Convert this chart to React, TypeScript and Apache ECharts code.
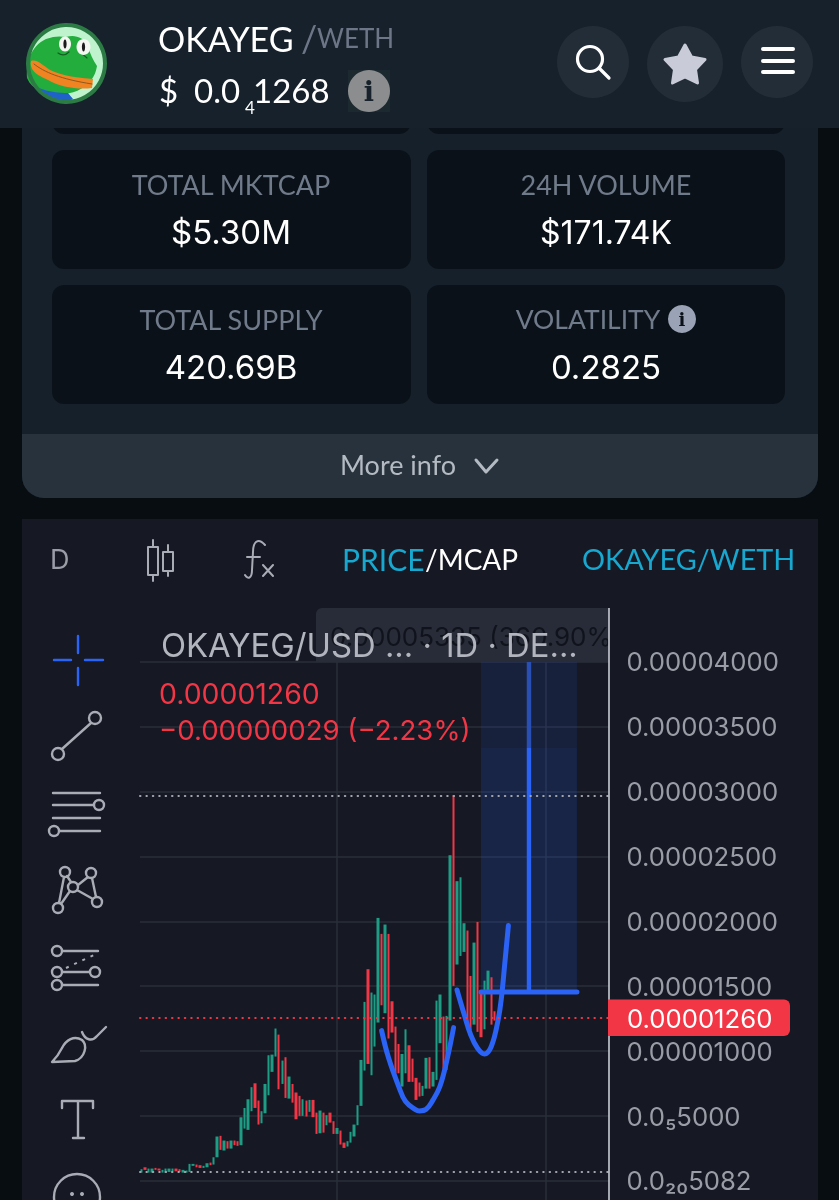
import React, { useEffect, useRef } from "react";
import * as echarts from "echarts";

// Prices are in units of 0.000001
const opens = [
  0.64, 1.05, 0.64, 0.64, 1.0, 0.95, 0.64, 0.64, 0.69, 0.74, 0.95, 0.9, 0.64, 0.64, 0.69, 1.16, 1.26, 1.21, 1.0, 1.05,
  1.41, 1.26, 1.82, 3.47, 2.34, 3.06, 2.49, 3.11, 3.06, 2.75, 4.03, 3.93, 5.37, 7.52, 6.19, 4.44, 5.21, 6.6, 8.4, 9.58,
  11.27, 7.47, 9.53, 6.34, 7.47, 6.81, 6.55, 5.01, 6.19, 5.32, 6.24, 5.26, 3.67, 5.26, 4.29, 5.26, 4.6, 3.62, 3.88, 2.95,
  2.65, 2.95, 3.42, 4.29, 5.78, 8.5, 16.31, 8.14, 10.35, 12.2, 19.03, 12.92, 19.03, 13.84, 11.89, 10.55, 7.27, 8.29, 10.45, 9.42,
  7.94, 7.58, 6.55, 7.11, 9.53, 7.27, 7.78, 10.61, 12.66, 8.55, 12.35, 29.71, 16.67, 17.33, 17.64, 19.29, 15.79, 12.04, 19.95, 14.66,
  11.68, 14.46, 15.69, 13.07,
];
const closes = [
  0.9, 0.85, 0.95, 0.95, 0.85, 0.8, 0.85, 0.95, 0.95, 0.95, 0.74, 0.69, 0.85, 0.8, 1.31, 1.31, 1.05, 1.0, 1.16, 1.36,
  1.21, 1.82, 3.42, 2.39, 3.11, 2.49, 3.11, 2.75, 2.7, 4.9, 5.62, 6.29, 7.22, 5.62, 4.34, 5.37, 7.47, 9.68, 9.73, 11.74,
  7.06, 9.27, 6.39, 8.04, 6.03, 4.75, 5.01, 6.29, 4.96, 6.24, 4.91, 3.62, 5.42, 3.72, 5.06, 4.49, 3.62, 4.08, 2.8, 2.54,
  3.06, 3.78, 4.34, 5.83, 9.32, 13.79, 9.01, 14.51, 14.36, 20.26, 13.53, 19.75, 10.97, 11.43, 8.29, 8.29, 9.78, 11.68, 7.63, 7.63,
  6.24, 6.5, 7.32, 9.48, 7.11, 8.4, 13.89, 14.36, 8.65, 12.71, 25.09, 15.02, 23.09, 23.39, 19.85, 12.15, 11.63, 18.36, 11.48, 11.07,
  15.43, 16.2, 12.04, 12.35,
];
const categoryCount = 137;
const categories = Array.from({ length: categoryCount }, (_, i) => `D${i + 1}`);

const yTicks = ["0.00004000", "0.00003500", "0.00003000", "0.00002500", "0.00002000", "0.00001500", "0.00001000", "0.0₅5000", "0.0₂₀5082"];
const highPrice = 29.71;
const lowPrice = 0.69;
const lastPrice = 12.6;

const cupOne = [[70, 11.58], [72, 9.5], [75, 7.27], [77, 6.11], [80, 5.47], [81, 5.39], [83, 5.52], [85, 6.24], [87, 7.27], [89, 9.24], [91, 11.81]];
const cupTwo = [[92, 14.71], [94, 12.92], [96, 11.25], [98, 10.22], [100, 9.78], [102, 10.35], [104, 12.4], [105, 14.2], [106, 16.9], [107, 19.67]];
const rangeBase = 14.56;
const rangeBand = 33.36;
const rangeTop = 40;
const rangeStart = 99;
const rangeEnd = 127;
const rangeMid = 113;
const gridXLines = [57, 118];

const statCards = [
  { label: "TOTAL MKTCAP", value: "$5.30M" },
  { label: "24H VOLUME", value: "$171.74K" },
  { label: "TOTAL SUPPLY", value: "420.69B" },
  { label: "VOLATILITY", value: "0.2825" },
];

const GREEN = "#1f9c84";
const RED = "#f23645";
const BLUE = "#2b63f6";
const ICON = "#a9acb5";
const LABEL = "#9a9da6";
const UI = "Inter, sans-serif";
const HEAD = "Lato, sans-serif";

const ring = (cx: number, cy: number, r: number) =>
  `M${cx - r} ${cy}a${r} ${r} 0 1 0 ${2 * r} 0a${r} ${r} 0 1 0 ${-2 * r} 0`;

const shapes: Record<string, string> = {
  icFrogHead: "M27 78C26 62 31 46 46 39C54 36 60 36 66 37C74 34 84 37 88 46C90 54 93 60 97 66C96 72 94 76 92 79C84 90 72 94 60 94C44 94 32 90 27 78Z",
  icFrogMouth: "M31 61C37 59 42 65 50 70C62 76 80 78 93 79L92 88C78 90 60 87 48 80C40 76 29 72 31 61Z",
  icFrogShirt: "M39 88C48 92 60 93 68 93L73 99C64 104 50 103 39 88Z",
  icCleft: "M34 64C44 72 60 79 92 84",
  icBrow: "M58 53C62 56 66 55 69 52M87 58C84 56 82 54 80 50",
  icSearch: `${ring(590, 59, 12.5)}M599 68L609 78`,
  icStar: "M685 45L691.5 57L705 59.5L695.5 69.5L697.5 83L685 77L672.5 83L674.5 69.5L665 59.5L678.5 57Z",
  icMenu: "M763 49H793M763 61H793M763 72H793",
  icCandle: "M153 540V547M148 547H158V575H148ZM153 575V581M168 545V552M163 552H173V571H163ZM168 571V576",
  icFx: "M265 545C258 537 253 542 253 552L252 570C252 578 248 580 245 575M247 557H260M263 565L273 576M273 565L263 576",
  icCrossV: "M78 636V653M78 668V685",
  icCrossH: "M54 660H71M85 660H103",
  icTrend: `${ring(58, 754, 6)}${ring(95, 718, 6)}M62 749L91 723`,
  icLines: `M53 793H100M53 805H94${ring(99, 805, 5)}M53 818H100${ring(54, 831, 5)}M59 831H100`,
  icPattern: `${ring(65, 872, 5)}${ring(91, 873, 5)}${ring(73, 887, 5)}${ring(58, 908, 5)}${ring(97, 902, 5)}M64 877L59 903M67 876L71 882M70 891L61 904M77 890L93 899M92 878L96 897M78 885L88 877`,
  icFib: `${ring(57, 951, 5)}M62 951H98${ring(57, 972, 5)}M62 972H90${ring(95, 972, 5)}${ring(57, 985, 5)}M62 985H98`,
  icFibDash: "M66 968L94 955",
  icBrush: "M52 1062L75 1061C85 1058 88 1045 82 1040C74 1035 66 1040 62 1048C59 1054 56 1058 52 1062ZM82 1032C85 1040 92 1042 97 1036L106 1027",
  icText: "M62 1108V1101H93V1108M78 1101V1138M73 1138H84",
  icMore: ring(77, 1197, 23),
  icChevron: "M476 460L486 472L497 460",
};
Object.entries(shapes).forEach(([name, d]) => {
  echarts.graphic.registerShape(name, echarts.graphic.extendPath(d, {}));
});

const rect = (x: number, y: number, width: number, height: number, fill: string, r: any = 0, z = -10) => ({
  type: "rect",
  z,
  silent: true,
  shape: { x, y, width, height, r },
  style: { fill },
});
const label = (text: string, x: number, y: number, size: number, fill: string, font = UI, align = "left", weight: any = 400, z = 100) => ({
  type: "text",
  z,
  silent: true,
  style: { text, x, y, fill, fontFamily: font, fontSize: size, fontWeight: weight, align, verticalAlign: "middle" },
});
const stroke = (type: string, color = ICON, lineWidth = 2.4, z = 100) => ({
  type,
  z,
  silent: true,
  style: { fill: "none", stroke: color, lineWidth, lineCap: "round", lineJoin: "round" },
});
const solid = (type: string, fill: string, z = 100) => ({ type, z, silent: true, style: { fill, stroke: "none" } });
const disc = (cx: number, cy: number, r: number, fill: string, z = 100) => ({
  type: "circle",
  z,
  silent: true,
  shape: { cx, cy, r },
  style: { fill },
});
const oval = (cx: number, cy: number, rx: number, ry: number, fill: string) => ({
  type: "ellipse",
  z: 100,
  silent: true,
  shape: { cx, cy, rx, ry },
  style: { fill },
});

const cardBoxes = [
  [52, 150, 359, 119],
  [427, 150, 358, 119],
  [52, 285, 359, 119],
  [427, 285, 358, 119],
];

const elements: any[] = [
  rect(0, 0, 839, 1300, "#080d12", 0, -30),
  rect(22, 120, 796, 378, "#15202a", [0, 0, 22, 22], -20),
  rect(22, 434, 796, 64, "#27323c", [0, 0, 22, 22], -19),
  rect(52, 120, 359, 14, "#0b1118", [0, 0, 12, 12], -18),
  rect(427, 120, 358, 14, "#0b1118", [0, 0, 12, 12], -18),
  ...cardBoxes.map(([x, y, w, h]) => rect(x, y, w, h, "#0b1118", 12, -18)),
  rect(0, 0, 839, 128, "#16212b", 0, -15),
  rect(22, 519, 796, 781, "#161924", 0, -20),

  // header
  disc(66.5, 63.5, 39, "#bff3cd"),
  solid("icFrogHead", "#22ad3d"),
  solid("icFrogShirt", "#1f63c9"),
  solid("icFrogMouth", "#f08322"),
  stroke("icCleft", "#8b5a1f", 1),
  stroke("icBrow", "#155c24", 1.2),
  oval(65, 44, 6, 7.5, "#f4f7f2"),
  oval(83.5, 47, 7, 8, "#f4f7f2"),
  oval(65, 44, 1.6, 4.5, "#1c1c1c"),
  oval(83.5, 47, 1.6, 4.5, "#1c1c1c"),
  {
    type: "circle",
    z: 100,
    silent: true,
    shape: { cx: 66.5, cy: 63.5, r: 38.5 },
    style: { fill: "none", stroke: "#2c7b45", lineWidth: 4 },
  },
  label("OKAYEG", 158, 38, 34, "#ffffff", HEAD),
  label("/", 301, 38, 36, "#6c7687", HEAD),
  label("WETH", 317, 38, 26, "#6c7687", HEAD),
  label("$", 159, 90, 33, "#ffffff", HEAD),
  label("0.0", 194, 90, 33, "#ffffff", HEAD),
  label("4", 245, 107, 17, "#ffffff", HEAD),
  label("1268", 253, 90, 33, "#ffffff", HEAD),
  rect(348, 70, 42, 42, "#1c2a30", 0, -14),
  disc(369, 91, 21, "#8b8d8e"),
  label("i", 369, 91, 27, "#16212b", "DejaVu Serif", "center", 700),
  disc(593, 62, 36, "#222d37"),
  disc(685, 64, 38, "#222d37"),
  disc(777, 62, 36, "#222d37"),
  stroke("icSearch", "#ffffff", 3.2),
  { ...solid("icStar", "#c9ccd8"), style: { fill: "#c9ccd8", stroke: "#c9ccd8", lineWidth: 3, lineJoin: "round" } },
  stroke("icMenu", "#ffffff", 4),

  // cards
  label(statCards[0].label, 231, 184.5, 27, "#6f7a8a", HEAD, "center"),
  label(statCards[0].value, 231, 232, 33, "#ffffff", UI, "center"),
  label(statCards[1].label, 606, 184.5, 27, "#6f7a8a", HEAD, "center"),
  label(statCards[1].value, 606, 232, 32, "#ffffff", UI, "center"),
  label(statCards[2].label, 231, 319, 27, "#6f7a8a", HEAD, "center"),
  label(statCards[2].value, 231, 367, 33, "#ffffff", UI, "center"),
  label(statCards[3].label, 588, 319, 26.5, "#6f7a8a", HEAD, "center"),
  disc(682, 319, 14, "#9aa3b5"),
  label("i", 682, 319, 18, "#0b1118", "DejaVu Serif", "center", 700),
  label(statCards[3].value, 606, 367, 33, "#ffffff", UI, "center"),
  label("More info", 398, 464.5, 27, "#b4bac2", HEAD, "center"),
  stroke("icChevron", "#b4bac2", 3),

  // chart header
  label("D", 50, 559, 27, LABEL, UI),
  stroke("icCandle", ICON, 2),
  stroke("icFx", ICON, 2),
  label("PRICE", 342, 559, 30, "#17a7cf", HEAD),
  label("/MCAP", 425, 559, 28, "#ffffff", HEAD),
  label("OKAYEG/WETH", 582, 559, 28.8, "#17a7cf", HEAD),

  // measurement label and legend
  rect(316, 608, 293, 54, "#282c38", [6, 0, 0, 0], 50),
  label("0.00005335 (360.90%", 330, 636, 26, "#10131b", UI, "left", 400, 51),
  label("OKAYEG/USD ... · 1D · DE...", 161, 645, 32.8, "#b2b5be", UI),
  label("0.00001260", 159, 693, 28.4, RED, UI),
  label("−0.00000029 (−2.23%)", 159, 730, 27.6, RED, UI),

  // drawing tools
  stroke("icCrossV", BLUE, 2.4),
  stroke("icCrossH", BLUE, 2.4),
  stroke("icTrend"),
  stroke("icLines"),
  stroke("icPattern"),
  stroke("icFib"),
  { ...stroke("icFibDash", ICON, 2), style: { fill: "none", stroke: ICON, lineWidth: 2, lineDash: [3, 6] } },
  stroke("icBrush"),
  stroke("icText"),
  stroke("icMore"),
  disc(72, 1194, 2, ICON),
  disc(82, 1194, 2, ICON),

  // price axis rule and last price tag
  { type: "line", z: 60, silent: true, shape: { x1: 609, y1: 608, x2: 609, y2: 1300 }, style: { stroke: "#c9ccd4", lineWidth: 1.6 } },
  rect(608, 999.5, 182, 36.5, RED, [0, 6, 6, 0], 70),
  label("0.00001260", 627, 1018, 25.7, "#ffffff", UI, "left", 400, 71),
];

const App = () => {
  const ref = useRef<HTMLDivElement>(null);
  useEffect(() => {
    const chart = echarts.init(ref.current!, null, { renderer: "svg" });
    const dotted = (value: number, color: string) => ({
      yAxis: value,
      lineStyle: { color, width: 2, type: [0.5, 5.9], cap: "round" },
    });
    chart.setOption({
      animation: false,
      backgroundColor: "transparent",
      graphic: { elements },
      grid: { left: 140, top: 661.7, width: 469.5, height: 584.1, containLabel: false },
      xAxis: {
        type: "category",
        data: categories,
        boundaryGap: true,
        axisLine: { show: false },
        axisTick: { show: false },
        axisLabel: { show: false },
        splitLine: {
          show: true,
          alignWithLabel: true,
          interval: (i: number) => gridXLines.includes(i),
          lineStyle: { color: "#2a2e39", width: 1.5 },
        },
      },
      yAxis: {
        type: "value",
        position: "right",
        min: -5,
        max: 40,
        interval: 5,
        axisLine: { show: false },
        axisTick: { show: false },
        axisLabel: {
          margin: 17,
          color: LABEL,
          fontFamily: UI,
          fontSize: 25.7,
          formatter: (v: number) => {
            const i = Math.round((40 - v) / 5);
            return yTicks[i] ?? "";
          },
        },
        splitLine: { show: true, lineStyle: { color: "#2a2e39", width: 1.5 } },
      },
      series: [
        {
          type: "line",
          name: "range base",
          z: 3,
          data: [[rangeStart, rangeBase], [rangeEnd, rangeBase]],
          showSymbol: false,
          silent: true,
          lineStyle: { color: BLUE, width: 5, cap: "round" },
          markArea: {
            silent: true,
            label: { show: false },
            data: [
              [
                { xAxis: rangeStart, yAxis: rangeBase, itemStyle: { color: "rgba(41,98,255,0.115)" } },
                { xAxis: rangeEnd, yAxis: rangeTop },
              ],
              [
                { xAxis: rangeStart, yAxis: rangeBase, itemStyle: { color: "rgba(41,98,255,0.06)" } },
                { xAxis: rangeEnd, yAxis: rangeBand },
              ],
            ],
          },
        },
        {
          type: "candlestick",
          name: "OKAYEG/USD",
          z: 2,
          barWidth: 2.9,
          silent: true,
          itemStyle: { color: GREEN, color0: RED, borderColor: GREEN, borderColor0: RED, borderWidth: 0 },
          data: opens.map((o, i) => [o, closes[i], Math.min(o, closes[i]), Math.max(o, closes[i])]),
          markLine: {
            silent: true,
            symbol: "none",
            label: { show: false },
            data: [dotted(highPrice, "#a3a6ad"), dotted(lowPrice, "#a3a6ad"), dotted(lastPrice, RED)],
          },
        },
        {
          type: "line",
          name: "range stem",
          z: 3,
          data: [[rangeMid, rangeBase], [rangeMid, rangeBand]],
          showSymbol: false,
          silent: true,
          lineStyle: { color: BLUE, width: 4.4 },
        },
        {
          type: "line",
          name: "range stem upper",
          z: 3,
          data: [[rangeMid, rangeBand], [rangeMid, rangeTop]],
          showSymbol: false,
          silent: true,
          lineStyle: { color: "#2a4fb4", width: 4.4 },
        },
        {
          type: "line",
          name: "cup one",
          z: 3,
          data: cupOne,
          smooth: 0.4,
          showSymbol: false,
          silent: true,
          lineStyle: { color: BLUE, width: 5, cap: "round" },
        },
        {
          type: "line",
          name: "cup two",
          z: 3,
          data: cupTwo,
          smooth: 0.4,
          showSymbol: false,
          silent: true,
          lineStyle: { color: BLUE, width: 5, cap: "round" },
        },
      ],
    });
    return () => chart.dispose();
  }, []);
  return (
    <div style={{ position: "fixed", left: 0, top: 0, width: 839, height: 1200, overflow: "hidden" }}>
      <div ref={ref} style={{ width: 839, height: 1300 }} />
    </div>
  );
};

export default App;
